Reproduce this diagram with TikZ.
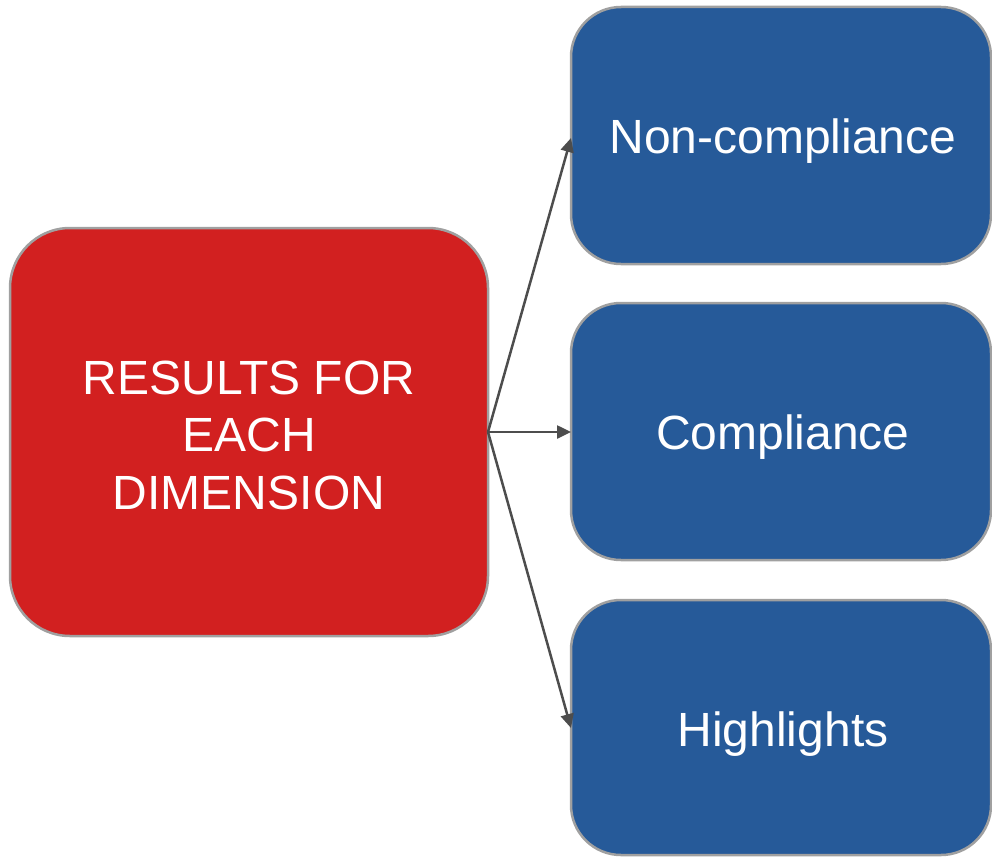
\documentclass[tikz,border=0pt]{standalone}
\usepackage{fontspec}
\setmainfont{Liberation Sans}
\usetikzlibrary{arrows.meta}
\definecolor{redfill}{HTML}{D22020}
\definecolor{bluefill}{HTML}{265A99}
\definecolor{edgegray}{HTML}{A0A0A0}
\definecolor{arrowgray}{HTML}{4D4D4D}
\tikzset{
  redbox/.style={draw=edgegray, line width=2.5pt, fill=redfill, rounded corners=60pt},
  bluebox/.style={draw=edgegray, line width=2.5pt, fill=bluefill, rounded corners=50pt},
  lbl/.style={text=white, font=\fontsize{48}{57.5}\selectfont, align=center},
  conn/.style={draw=arrowgray, line width=2.5pt, -{Triangle[length=14pt,width=13pt]}}
}
\begin{document}
\begin{tikzpicture}[x=1pt,y=-1pt]
\useasboundingbox (0,0) rectangle (992,856);
\draw[redbox] (10,228) rectangle (488,636);
\node[lbl] (res) at (249,435) {RESULTS FOR\\EACH\\DIMENSION};
\coordinate (src) at (488,432);
\draw[bluebox] (571,7) rectangle (991,264);
\draw[bluebox] (571,303) rectangle (991,560);
\draw[bluebox] (571,600) rectangle (991,855);
\node[lbl] (nc) at (783,141) {Non-compliance};
\node[lbl] (co) at (783,437) {Compliance};
\node[lbl] (hi) at (783,734) {Highlights};
\coordinate (t1) at (571,138);
\coordinate (t2) at (571,432);
\coordinate (t3) at (571,728);
\draw[conn] (src) -- (t1);
\draw[conn] (src) -- (t2);
\draw[conn] (src) -- (t3);
\end{tikzpicture}
\end{document}
